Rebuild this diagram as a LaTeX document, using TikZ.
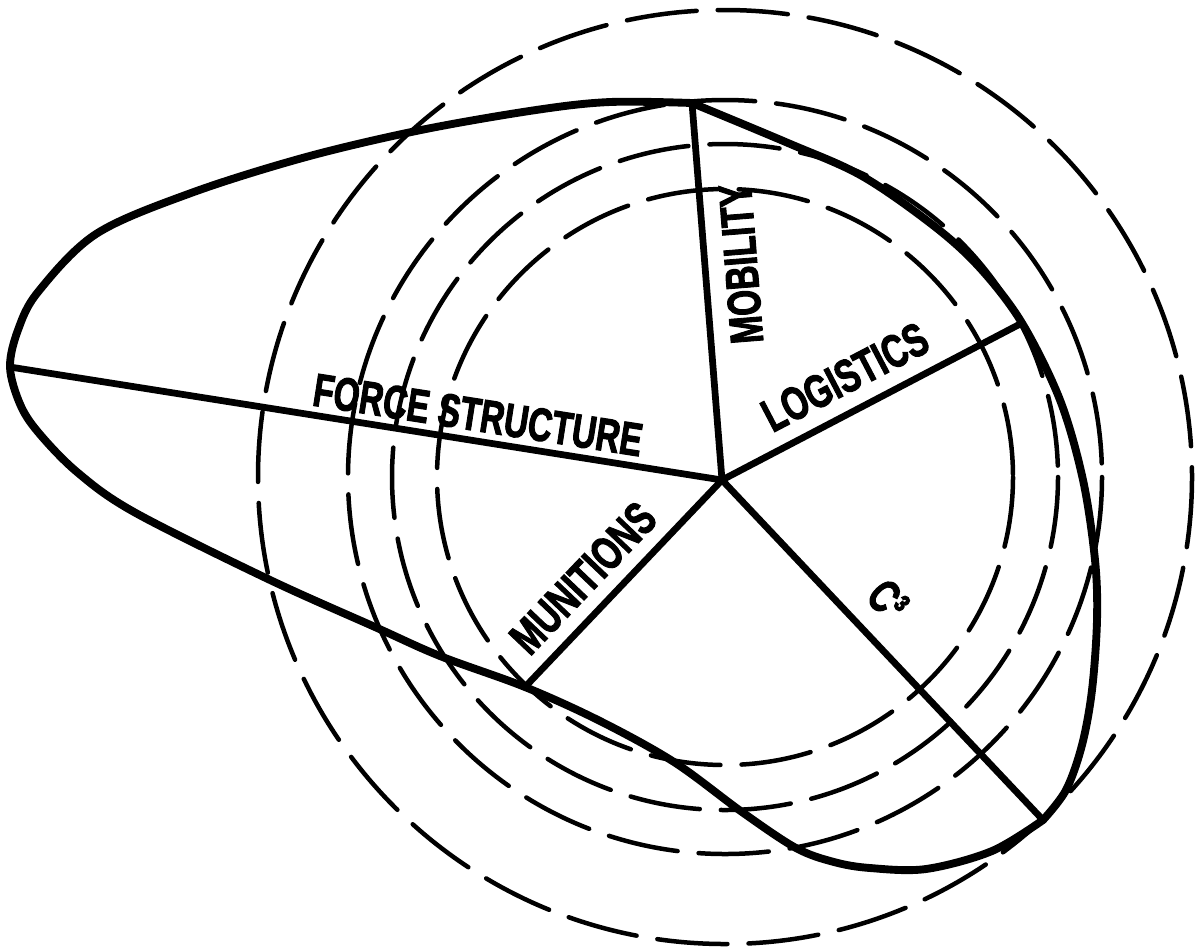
\documentclass[tikz,border=0pt]{standalone}
\usepackage{fontspec}
\usepackage{xcolor}
\usepackage{graphicx}
\usepackage{tikz}
\usetikzlibrary{calc}
\newfontfamily\axisfont{Liberation Sans Bold}[FakeBold=2.6]
\newcommand\axtext[1]{\scalebox{0.72}[1]{#1}}
\definecolor{rdink}{RGB}{0,0,0}
\definecolor{rdpaper}{RGB}{255,255,255}
\tikzset{
  ring/.style={
    draw=rdink, line width=3.2pt, line cap=round,
    dash pattern=on 50pt off 15pt
  },
  spoke/.style={draw=rdink, line width=4.8pt, line cap=round},
  hull/.style={draw=rdink, line width=5.6pt, line join=round, line cap=round},
  axis/.style={
    font=\axisfont\fontsize{33}{33}\selectfont,
    inner sep=0pt, text=rdink
  }
}
\begin{document}
\begin{tikzpicture}[x=0.025cm,y=-0.025cm]
  \fill[rdpaper] (0,0) rectangle (1195,950);
  \useasboundingbox (0,0) rectangle (1195,950);
  \coordinate (ctr) at (725,477);
  \foreach \r in {288,333,377,467}
    \draw[ring] (ctr) circle[radius=\r];
  \coordinate (hub) at (722,480);
  \coordinate (fs) at (10,367);
  \coordinate (mo) at (692,103);
  \coordinate (lg) at (1022,323);
  \coordinate (c3) at (1043,820);
  \coordinate (mu) at (525,687);
  % outline of the five ratings
  \draw[hull] plot[smooth,tension=0.55] coordinates {(c3) (992,851) (926,869)
    (870,868) (834,862) (796,848) (742,812) (674,762) (600,721) (mu)
    (440,656) (375,627) (268,579) (134,512) (77,472) (38,432) (20,404) (fs)
    (18,330) (38,292) (96,234) (191,193) (306,157) (421,130) (536,110)
    (610,102) (mo)};
  \draw[hull] plot[smooth,tension=0.55] coordinates {(mo) (788,143) (862,176)
    (934,226) (980,268) (lg) (1060,400) (1083,480) (1095,560) (1097,620)
    (1092,690) (1082,745) (1066,790) (c3)};
  \draw[spoke] (hub) -- (fs);
  \draw[spoke] (hub) -- (mo);
  \draw[spoke] (hub) -- (lg);
  \draw[spoke] (hub) -- (c3);
  \draw[spoke] (hub) -- (mu);
  \node[axis, rotate=-8.86] (lfs) at (478,415) {\axtext{FORCE STRUCTURE}};
  \node[axis, rotate=94.55] (lmo) at (741,264) {\axtext{MOBILITY}};
  \node[axis, rotate=27.6] (llg) at (845,377) {\axtext{LOGISTICS}};
  \node[axis, rotate=46.4] (lmu) at (583,578) {\axtext{MUNITIONS}};
  \node[axis, rotate=-46.6] (lc3) at (888,600) {\axtext{C³}};
\end{tikzpicture}
\end{document}
